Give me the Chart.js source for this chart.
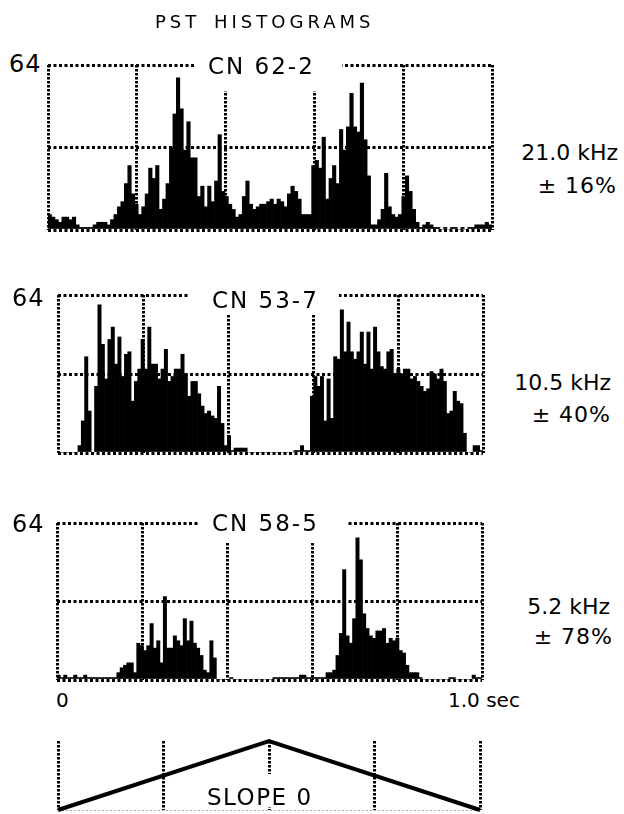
<!DOCTYPE html>
<html>
<head>
<meta charset="utf-8">
<title>PST Histograms</title>
<script src="https://cdn.jsdelivr.net/npm/chart.js@4/dist/chart.umd.min.js"></script>
<style>
    body { margin: 0; background: #fff; }
    #page { position: relative; width: 624px; height: 814px; overflow: hidden;
            font-family: "DejaVu Sans", "Liberation Sans", sans-serif; color: #000; }
    canvas { position: absolute; }
    .txt { position: absolute; line-height: 1; white-space: nowrap; z-index: 3; }
    .mask { position: absolute; background: #fff; z-index: 2; }
</style>
</head>
<body>
<div id="page">
    <div class="txt" style="left:155px; top:13px; font-size:18px; letter-spacing:4px; word-spacing:4px;">PST HISTOGRAMS</div>

    <canvas id="hist1" width="452" height="173" style="left:44px; top:61px;"></canvas>
    <div class="mask" style="left:196px; top:52px; width:146px; height:39px;"></div>
    <div class="txt" style="left:9px; top:52px; font-size:24px; letter-spacing:1px;">64</div>
    <div class="txt" style="left:208px; top:55px; font-size:23px; letter-spacing:2px;">CN 62-2</div>
    <div class="txt" style="right:6px; top:142px; font-size:22px; text-align:right;">21.0 kHz</div>
    <div class="txt" style="right:7px; top:175px; font-size:22px; letter-spacing:1px; text-align:right;">± 16%</div>

    <canvas id="hist2" width="433" height="166" style="left:54px; top:291px;"></canvas>
    <div class="mask" style="left:188px; top:283px; width:151px; height:31px;"></div>
    <div class="txt" style="left:12px; top:286px; font-size:24px; letter-spacing:1px;">64</div>
    <div class="txt" style="left:212px; top:289px; font-size:23px; letter-spacing:2px;">CN 53-7</div>
    <div class="txt" style="right:13px; top:372px; font-size:22px; text-align:right;">10.5 kHz</div>
    <div class="txt" style="right:13px; top:404px; font-size:22px; letter-spacing:1px; text-align:right;">± 40%</div>

    <canvas id="hist3" width="433" height="165" style="left:53px; top:519px;"></canvas>
    <div class="mask" style="left:198px; top:511px; width:149px; height:31px;"></div>
    <div class="txt" style="left:12px; top:512px; font-size:24px; letter-spacing:1px;">64</div>
    <div class="txt" style="left:212px; top:512px; font-size:23px; letter-spacing:2px;">CN 58-5</div>
    <div class="txt" style="right:14px; top:596px; font-size:22px; text-align:right;">5.2 kHz</div>
    <div class="txt" style="right:11px; top:626px; font-size:22px; letter-spacing:1px; text-align:right;">± 78%</div>

    <div class="txt" style="left:56px; top:690px; font-size:20px;">0</div>
    <div class="txt" style="left:448px; top:690px; font-size:20px;">1.0 sec</div>

    <canvas id="slope" width="430" height="77" style="left:54px; top:737px;"></canvas>
    <div class="mask" style="left:205px; top:774px; width:110px; height:33px;"></div>
    <div class="txt" style="left:207px; top:786px; font-size:23px; letter-spacing:1.5px;">SLOPE 0</div>
</div>

<script>
// spike counts per bin, 128 bins over 1.0 sec
const cn622 = [
    6, 5, 4, 3, 5, 5, 4, 5, 2, 1,
    1, 1, 1, 2, 3, 3, 3, 2, 4, 6,
    9, 11, 18, 25, 14, 10, 6, 9, 14, 24,
    20, 25, 8, 12, 18, 32, 45, 59, 47, 31,
    42, 28, 28, 13, 17, 9, 17, 11, 19, 37,
    15, 13, 10, 8, 5, 6, 13, 19, 10, 8,
    9, 10, 10, 11, 12, 10, 12, 11, 9, 14,
    17, 15, 12, 6, 6, 6, 25, 27, 24, 36,
    12, 20, 25, 18, 39, 31, 40, 53, 40, 38,
    57, 35, 21, 2, 2, 4, 8, 22, 9, 6,
    5, 6, 13, 21, 15, 8, 3, 1, 2, 3,
    2, 1, 1, 0, 1, 0, 1, 1, 0, 1,
    0, 1, 1, 2, 2, 2, 3, 2
];
const cn537 = [
    0, 0, 0, 0, 0, 0, 3, 13, 39, 17,
    0, 27, 60, 44, 30, 46, 51, 36, 47, 31,
    40, 41, 21, 29, 34, 46, 34, 51, 36, 36,
    30, 34, 42, 29, 31, 34, 34, 40, 32, 23,
    29, 29, 24, 19, 16, 17, 15, 14, 27, 12,
    3, 7, 1, 2, 2, 2, 2, 0, 0, 0,
    0, 0, 0, 0, 0, 0, 0, 0, 0, 0,
    0, 1, 1, 3, 1, 1, 23, 31, 27, 31,
    13, 30, 14, 39, 38, 58, 41, 53, 41, 38,
    41, 49, 36, 49, 34, 51, 41, 35, 34, 41,
    42, 32, 34, 32, 34, 34, 30, 31, 29, 27,
    25, 26, 33, 32, 30, 34, 29, 16, 17, 25,
    21, 20, 8, 0, 0, 3, 3, 1
];
const cn585 = [
    2, 1, 2, 1, 1, 2, 1, 1, 2, 1,
    1, 1, 1, 1, 1, 1, 1, 1, 3, 5,
    6, 7, 7, 3, 15, 14, 12, 14, 23, 13,
    16, 7, 34, 13, 13, 18, 16, 14, 25, 16,
    24, 15, 13, 10, 4, 3, 16, 9, 0, 0,
    0, 0, 1, 0, 0, 0, 0, 0, 0, 0,
    0, 0, 0, 0, 0, 1, 1, 1, 1, 1,
    1, 1, 1, 2, 2, 1, 1, 1, 1, 1,
    1, 3, 3, 4, 10, 19, 45, 18, 15, 25,
    58, 49, 27, 21, 18, 17, 20, 20, 21, 15,
    17, 16, 17, 12, 11, 6, 3, 3, 3, 1,
    0, 0, 0, 0, 0, 0, 0, 0, 1, 1,
    0, 0, 0, 0, 0, 2, 1, 1
];
const binLabels = cn622.map((v, i) => i);

// stimulus ramp (triangle), time in sec vs relative frequency
const slopeTime = [0, 0.5, 1.0];
const slopeLevel = [0, 1, 0];

const countMax = 64;
const countStep = 32;
const timeStep = 0.25;

function drawHist(id, counts) {
    new Chart(document.getElementById(id), {
        type: "bar",
        data: {
            labels: binLabels,
            datasets: [{
                data: counts,
                backgroundColor: "#000",
                borderWidth: 0,
                barPercentage: 1,
                categoryPercentage: 1
            }]
        },
        options: {
            responsive: false,
            animation: false,
            devicePixelRatio: 1,
            layout: { padding: 4 },
            plugins: { legend: { display: false }, tooltip: { enabled: false } },
            scales: {
                x: { display: false },
                t: {
                    type: "linear", position: "bottom", min: 0, max: 1,
                    ticks: { display: false, stepSize: timeStep },
                    grid: { color: "#000", lineWidth: 3, drawTicks: false },
                    border: { display: false, dash: [2.5, 1.5] }
                },
                y: {
                    min: 0, max: countMax,
                    ticks: { display: false, stepSize: countStep },
                    grid: { color: "#000", lineWidth: 3, drawTicks: false },
                    border: { display: false, dash: [3, 2.5] }
                }
            }
        }
    });
}

drawHist("hist1", cn622);
drawHist("hist2", cn537);
drawHist("hist3", cn585);

// triangle stimulus
new Chart(document.getElementById("slope"), {
    type: "line",
    data: {
        datasets: [{
            data: slopeTime.map((t, i) => ({ x: t, y: slopeLevel[i] })),
            borderColor: "#000",
            borderWidth: 4,
            pointRadius: 0,
            tension: 0,
            clip: false
        }]
    },
    options: {
        responsive: false,
        animation: false,
        devicePixelRatio: 1,
        layout: { padding: 4 },
        plugins: { legend: { display: false }, tooltip: { enabled: false } },
        scales: {
            x: {
                type: "linear", min: 0, max: 1,
                ticks: { display: false, stepSize: timeStep },
                grid: { color: "#000", lineWidth: 3, drawTicks: false },
                border: { display: false, dash: [2.5, 1.5] }
            },
            y: {
                min: 0, max: 1,
                ticks: { display: false, stepSize: 1 },
                grid: {
                    color: ctx => ctx.tick && ctx.tick.value === 0 ? "#aaa" : "rgba(0,0,0,0)",
                    lineWidth: 1, drawTicks: false
                },
                border: { display: false, dash: [2, 2] }
            }
        }
    }
});
</script>
</body>
</html>
